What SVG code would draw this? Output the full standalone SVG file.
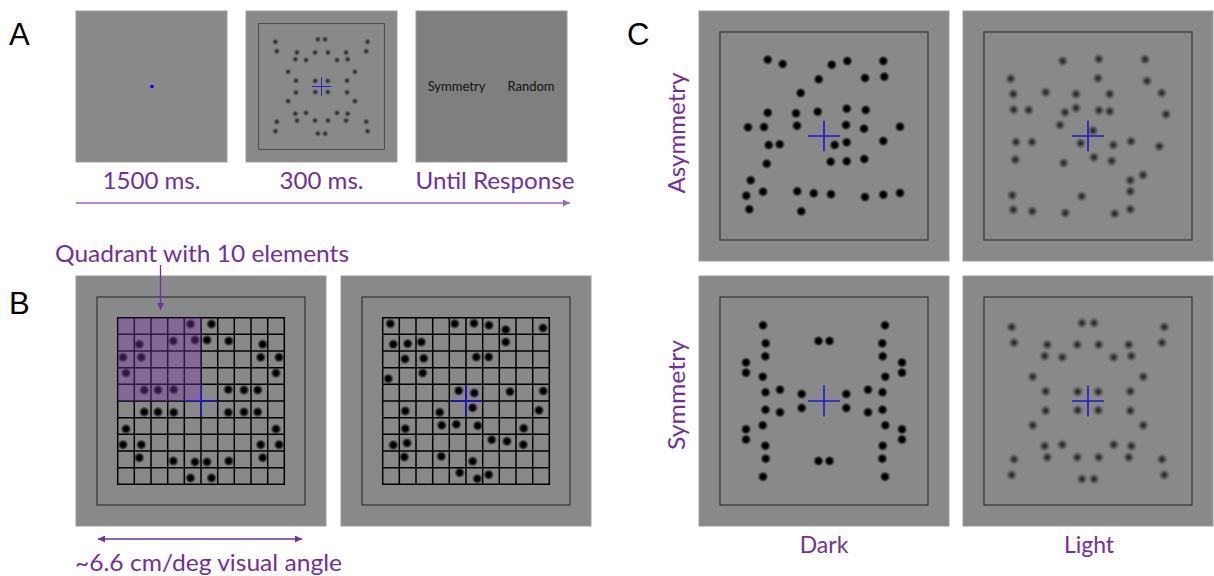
<svg xmlns="http://www.w3.org/2000/svg" xmlns:xlink="http://www.w3.org/1999/xlink" width="1214" height="576" viewBox="0 0 1214 576">
<style>
.bg{fill:#898989;stroke:#9c9c9c;stroke-width:1}
.frame{fill:none;stroke:#333;stroke-width:1.2}
.cross{stroke:#1a1ad8;stroke-width:1.6;fill:none}
.d{fill:url(#gD)}
.l{fill:url(#gL)}
.grid{fill:none;stroke:#000;stroke-width:1.5;stroke-linecap:square}
.lab{font-family:Lato,"Open Sans","Liberation Sans",sans-serif;fill:#7030a0}
.big{font-family:"Liberation Sans",Arial,sans-serif;font-size:31px;fill:#000}
.resp{font-family:Lato,"Liberation Sans",sans-serif;font-size:13px;fill:#111}
</style>
<defs>
<radialGradient id="gD"><stop offset="0" stop-color="#000"/><stop offset="0.42" stop-color="#000"/><stop offset="1" stop-color="#000" stop-opacity="0"/></radialGradient>
<radialGradient id="gL"><stop offset="0" stop-color="#262626"/><stop offset="0.3" stop-color="#303030" stop-opacity="0.9"/><stop offset="1" stop-color="#555" stop-opacity="0"/></radialGradient>
<marker id="mA" viewBox="0 0 8 8" refX="8" refY="4" markerWidth="7" markerHeight="7" markerUnits="userSpaceOnUse" orient="auto-start-reverse"><path d="M0,0L8,4L0,8z" fill="#9966cc"/></marker>
<marker id="mP" viewBox="0 0 8 8" refX="8" refY="4" markerWidth="7" markerHeight="7" markerUnits="userSpaceOnUse" orient="auto-start-reverse"><path d="M0,0L8,4L0,8z" fill="#7030a0"/></marker>
<path id="crossP" d="M-16,0H16M0,-15.5V15.5"/>
<g id="qSL">
<circle class="l" r="6" cx="-76.3" cy="-74"/><circle class="l" r="6" cx="-6" cy="-78"/><circle class="l" r="6" cx="-74" cy="-58.3"/><circle class="l" r="6" cx="-40.7" cy="-56.3"/><circle class="l" r="6" cx="-10.7" cy="-56.3"/><circle class="l" r="6" cx="-43.3" cy="-45"/><circle class="l" r="6" cx="-25.7" cy="-43.7"/><circle class="l" r="6" cx="-55.3" cy="-24.3"/><circle class="l" r="6" cx="-42.3" cy="-9.7"/><circle class="l" r="6" cx="-10.3" cy="-9.3"/>
</g>
<g id="qSD">
<circle class="d" r="5.5" cx="-61" cy="-75.7"/><circle class="d" r="5.5" cx="-5.5" cy="-60"/><circle class="d" r="5.5" cx="-58.3" cy="-57.7"/><circle class="d" r="5.5" cx="-58.7" cy="-44.7"/><circle class="d" r="5.5" cx="-78" cy="-38.5"/><circle class="d" r="5.5" cx="-78" cy="-28.3"/><circle class="d" r="5.5" cx="-61.3" cy="-24.3"/><circle class="d" r="5.5" cx="-58.5" cy="-8.7"/><circle class="d" r="5.5" cx="-44" cy="-11.3"/><circle class="d" r="5.5" cx="-22.3" cy="-7"/>
</g>
<g id="qB">
<circle class="d" r="5.5" cx="-10.5" cy="-77"/><circle class="d" r="5.5" cx="-61.7" cy="-56.7"/><circle class="d" r="5.5" cx="-27.7" cy="-60"/><circle class="d" r="5.5" cx="-6" cy="-61"/><circle class="d" r="5.5" cx="-78" cy="-43.7"/><circle class="d" r="5.5" cx="-59.7" cy="-43.7"/><circle class="d" r="5.5" cx="-75" cy="-28"/><circle class="d" r="5.5" cx="-56.7" cy="-11"/><circle class="d" r="5.5" cx="-43" cy="-11"/><circle class="d" r="5.5" cx="-27.3" cy="-11.5"/>
</g>
<g id="symLight">
<rect class="frame" x="-104" y="-104" width="208" height="208"/>
<use href="#qSL"/><use href="#qSL" transform="scale(-1,1)"/><use href="#qSL" transform="scale(1,-1)"/><use href="#qSL" transform="scale(-1,-1)"/>
<use href="#crossP" class="cross"/>
</g>
<path id="gridP" d="M-83.3,-83.3V83.3M-66.7,-83.3V83.3M-50,-83.3V83.3M-33.3,-83.3V83.3M-16.7,-83.3V83.3M0,-83.3V83.3M16.7,-83.3V83.3M33.3,-83.3V83.3M50,-83.3V83.3M66.7,-83.3V83.3M83.3,-83.3V83.3M-83.3,-83.3H83.3M-83.3,-66.7H83.3M-83.3,-50H83.3M-83.3,-33.3H83.3M-83.3,-16.7H83.3M-83.3,0H83.3M-83.3,16.7H83.3M-83.3,33.3H83.3M-83.3,50H83.3M-83.3,66.7H83.3M-83.3,83.3H83.3"/>
</defs>
<rect width="1214" height="576" fill="#fff"/>

<!-- Panel letters -->
<text class="big" x="9" y="45">A</text>
<text class="big" x="9" y="314">B</text>
<text class="big" x="627" y="45">C</text>

<!-- Panel A -->
<g id="a-fixation" transform="translate(151.5,86.5)">
<rect class="bg" x="-75.5" y="-75.5" width="151" height="151"/>
<circle r="1.8" fill="#0000ff" cx="0.5" cy="0"/>
</g>
<g id="a-stimulus" transform="translate(321.5,86.5)">
<rect class="bg" x="-75.5" y="-75.5" width="151" height="151"/>
<use href="#symLight" transform="scale(0.604)"/>
</g>
<g id="a-response" transform="translate(491.5,86.5)">
<rect class="bg" x="-75.5" y="-75.5" width="151" height="151" style="fill:#7f7f7f"/>
<text class="resp" x="-35" y="4.5" text-anchor="middle">Symmetry</text>
<text class="resp" x="39.5" y="4.5" text-anchor="middle">Random</text>
</g>
<g id="a-labels" font-size="23">
<text class="lab" x="151.5" y="189" text-anchor="middle" textLength="98" lengthAdjust="spacingAndGlyphs">1500 ms.</text>
<text class="lab" x="321.5" y="189" text-anchor="middle" textLength="84" lengthAdjust="spacingAndGlyphs">300 ms.</text>
<text class="lab" x="495" y="189" text-anchor="middle" textLength="159" lengthAdjust="spacingAndGlyphs">Until Response</text>
</g>

<!-- Panel B -->
<g id="b-grid-symmetric" transform="translate(201,401)">
<rect class="bg" x="-125" y="-125" width="250" height="250"/>
<rect class="frame" x="-104" y="-104" width="208" height="208"/>
<use href="#qB"/><use href="#qB" transform="scale(-1,1)"/><use href="#qB" transform="scale(1,-1)"/><use href="#qB" transform="scale(-1,-1)"/>
<use href="#gridP" class="grid"/>
<use href="#crossP" class="cross"/>
<rect x="-83.3" y="-83.3" width="83.3" height="83.3" fill="#7a3aaa" opacity="0.4"/>
</g>
<g id="b-grid-random" transform="translate(466,401)">
<rect class="bg" x="-125" y="-125" width="250" height="250"/>
<rect class="frame" x="-104" y="-104" width="208" height="208"/>
<g>
<circle class="d" r="5.5" cx="-75.7" cy="-77.3"/><circle class="d" r="5.5" cx="-11.3" cy="-77.3"/><circle class="d" r="5.5" cx="8" cy="-77.7"/><circle class="d" r="5.5" cx="23" cy="-75.7"/><circle class="d" r="5.5" cx="39.7" cy="-71.3"/><circle class="d" r="5.5" cx="77" cy="-73"/>
<circle class="d" r="5.5" cx="-72.7" cy="-56.7"/><circle class="d" r="5.5" cx="-58.3" cy="-57.3"/><circle class="d" r="5.5" cx="-44.7" cy="-59"/><circle class="d" r="5.5" cx="39.7" cy="-59"/>
<circle class="d" r="5.5" cx="-61" cy="-42"/><circle class="d" r="5.5" cx="-42.3" cy="-42.7"/><circle class="d" r="5.5" cx="10.3" cy="-44"/><circle class="d" r="5.5" cx="22.7" cy="-44"/>
<circle class="d" r="5.5" cx="-77.7" cy="-22.3"/><circle class="d" r="5.5" cx="-43.3" cy="-28"/>
<circle class="d" r="5.5" cx="-7.3" cy="-10.3"/><circle class="d" r="5.5" cx="8.3" cy="-8"/><circle class="d" r="5.5" cx="44" cy="-9.3"/><circle class="d" r="5.5" cx="77.3" cy="-10"/>
<circle class="d" r="5.5" cx="-60.7" cy="10"/><circle class="d" r="5.5" cx="-26.3" cy="11.3"/><circle class="d" r="5.5" cx="6.7" cy="6.7"/><circle class="d" r="5.5" cx="73" cy="9.3"/>
<circle class="d" r="5.5" cx="-60.7" cy="27.7"/><circle class="d" r="5.5" cx="-24.3" cy="24.3"/><circle class="d" r="5.5" cx="-9.7" cy="23.3"/><circle class="d" r="5.5" cx="11.7" cy="24.7"/><circle class="d" r="5.5" cx="57.7" cy="27.3"/>
<circle class="d" r="5.5" cx="-72.7" cy="44"/><circle class="d" r="5.5" cx="-59" cy="42"/><circle class="d" r="5.5" cx="25.7" cy="38.7"/><circle class="d" r="5.5" cx="41" cy="40.3"/><circle class="d" r="5.5" cx="57.3" cy="43.7"/>
<circle class="d" r="5.5" cx="-61.7" cy="56"/><circle class="d" r="5.5" cx="-24.7" cy="55.3"/><circle class="d" r="5.5" cx="6.7" cy="60.3"/>
<circle class="d" r="5.5" cx="-6.3" cy="71.7"/><circle class="d" r="5.5" cx="11.3" cy="77.7"/><circle class="d" r="5.5" cx="22.7" cy="73.7"/>
</g>
<use href="#gridP" class="grid"/>
<use href="#crossP" class="cross"/>
</g>
<g id="b-labels">
<text class="lab" x="202" y="262" font-size="24" text-anchor="middle" textLength="294" lengthAdjust="spacingAndGlyphs">Quadrant with 10 elements</text>
<text class="lab" x="208.5" y="571" font-size="24" text-anchor="middle" textLength="267" lengthAdjust="spacingAndGlyphs">~6.6 cm/deg visual angle</text>
</g>

<!-- Panel C -->
<g id="c-asym-dark" transform="translate(824,136)">
<rect class="bg" x="-125" y="-125" width="250" height="250"/>
<rect class="frame" x="-104" y="-104" width="208" height="208"/>
<g>
<circle class="d" r="5.5" cx="-56.3" cy="-76.3"/><circle class="d" r="5.5" cx="-41.3" cy="-72"/><circle class="d" r="5.5" cx="7.7" cy="-71.3"/><circle class="d" r="5.5" cx="23.3" cy="-75"/><circle class="d" r="5.5" cx="59.3" cy="-75"/>
<circle class="d" r="5.5" cx="-5.3" cy="-56.7"/><circle class="d" r="5.5" cx="41" cy="-58"/><circle class="d" r="5.5" cx="60.3" cy="-59.3"/>
<circle class="d" r="5.5" cx="-23.3" cy="-43"/>
<circle class="d" r="5.5" cx="-56.3" cy="-23.3"/><circle class="d" r="5.5" cx="-28" cy="-22.7"/><circle class="d" r="5.5" cx="-6.3" cy="-24.3"/><circle class="d" r="5.5" cx="22.7" cy="-27.3"/><circle class="d" r="5.5" cx="41.7" cy="-26"/>
<circle class="d" r="5.5" cx="-76" cy="-8.7"/><circle class="d" r="5.5" cx="-60" cy="-9"/><circle class="d" r="5.5" cx="-27" cy="-10.3"/><circle class="d" r="5.5" cx="22" cy="-11"/><circle class="d" r="5.5" cx="40" cy="-7.3"/><circle class="d" r="5.5" cx="76" cy="-9.3"/>
<circle class="d" r="5.5" cx="-55.3" cy="9"/><circle class="d" r="5.5" cx="-44.3" cy="8.3"/><circle class="d" r="5.5" cx="10.7" cy="9"/><circle class="d" r="5.5" cx="22.7" cy="6.3"/><circle class="d" r="5.5" cx="59.3" cy="5"/>
<circle class="d" r="5.5" cx="-57.3" cy="27.7"/><circle class="d" r="5.5" cx="6.7" cy="25.7"/><circle class="d" r="5.5" cx="22.7" cy="25.3"/><circle class="d" r="5.5" cx="40.3" cy="23"/>
<circle class="d" r="5.5" cx="-73.3" cy="44.3"/>
<circle class="d" r="5.5" cx="-77.7" cy="59.7"/><circle class="d" r="5.5" cx="-61" cy="55.7"/><circle class="d" r="5.5" cx="-26.7" cy="55.3"/><circle class="d" r="5.5" cx="-10.3" cy="57.3"/><circle class="d" r="5.5" cx="7" cy="58.3"/><circle class="d" r="5.5" cx="41" cy="61"/><circle class="d" r="5.5" cx="59.3" cy="58.7"/><circle class="d" r="5.5" cx="76" cy="57"/>
<circle class="d" r="5.5" cx="-74.7" cy="73.3"/><circle class="d" r="5.5" cx="-22.7" cy="75.3"/>
</g>
<use href="#crossP" class="cross"/>
</g>
<g id="c-asym-light" transform="translate(1088,136)">
<rect class="bg" x="-125" y="-125" width="250" height="250"/>
<rect class="frame" x="-104" y="-104" width="208" height="208"/>
<g>
<circle class="l" r="6" cx="-25.3" cy="-75"/><circle class="l" r="6" cx="10.7" cy="-77"/><circle class="l" r="6" cx="57" cy="-76.7"/>
<circle class="l" r="6" cx="-77.3" cy="-57.3"/><circle class="l" r="6" cx="10" cy="-57.7"/><circle class="l" r="6" cx="59" cy="-55"/>
<circle class="l" r="6" cx="-74.7" cy="-42"/><circle class="l" r="6" cx="-42.3" cy="-43.7"/><circle class="l" r="6" cx="-12" cy="-42"/><circle class="l" r="6" cx="21.7" cy="-42"/><circle class="l" r="6" cx="73.7" cy="-43"/>
<circle class="l" r="6" cx="-74.3" cy="-26.3"/><circle class="l" r="6" cx="-59.3" cy="-26"/><circle class="l" r="6" cx="-23" cy="-23.7"/><circle class="l" r="6" cx="-12" cy="-28"/><circle class="l" r="6" cx="11" cy="-25.7"/><circle class="l" r="6" cx="21.7" cy="-24.7"/><circle class="l" r="6" cx="78" cy="-21.7"/>
<circle class="l" r="6" cx="-28" cy="-11"/><circle class="l" r="6" cx="5" cy="-5.3"/>
<circle class="l" r="6" cx="-72" cy="6"/><circle class="l" r="6" cx="-56" cy="6"/><circle class="l" r="6" cx="-7.3" cy="7.3"/><circle class="l" r="6" cx="25.3" cy="9"/><circle class="l" r="6" cx="43" cy="5.3"/><circle class="l" r="6" cx="71.3" cy="10.3"/>
<circle class="l" r="6" cx="-72.7" cy="23.7"/><circle class="l" r="6" cx="-24.3" cy="27"/><circle class="l" r="6" cx="6" cy="21.3"/><circle class="l" r="6" cx="23.7" cy="25"/>
<circle class="l" r="6" cx="55" cy="39"/><circle class="l" r="6" cx="42.3" cy="44.3"/><circle class="l" r="6" cx="42.3" cy="55.3"/>
<circle class="l" r="6" cx="-75.7" cy="59.3"/><circle class="l" r="6" cx="-6.3" cy="60.3"/>
<circle class="l" r="6" cx="-74.7" cy="73.7"/><circle class="l" r="6" cx="-55.7" cy="75.3"/><circle class="l" r="6" cx="-22.7" cy="77"/><circle class="l" r="6" cx="26.7" cy="77.7"/><circle class="l" r="6" cx="42.3" cy="73.3"/>
</g>
<use href="#crossP" class="cross"/>
</g>
<g id="c-sym-dark" transform="translate(824,401)">
<rect class="bg" x="-125" y="-125" width="250" height="250"/>
<rect class="frame" x="-104" y="-104" width="208" height="208"/>
<use href="#qSD"/><use href="#qSD" transform="scale(-1,1)"/><use href="#qSD" transform="scale(1,-1)"/><use href="#qSD" transform="scale(-1,-1)"/>
<use href="#crossP" class="cross"/>
</g>
<g id="c-sym-light" transform="translate(1088,401)">
<rect class="bg" x="-125" y="-125" width="250" height="250"/>
<use href="#symLight"/>
</g>
<g id="c-labels" font-size="23">
<text class="lab" transform="translate(685,133) rotate(-90)" text-anchor="middle" textLength="121" lengthAdjust="spacingAndGlyphs">Asymmetry</text>
<text class="lab" transform="translate(685,395) rotate(-90)" text-anchor="middle" textLength="110" lengthAdjust="spacingAndGlyphs">Symmetry</text>
<text class="lab" x="824" y="553" text-anchor="middle">Dark</text>
<text class="lab" x="1089" y="553" text-anchor="middle">Light</text>
</g>

<!-- Connectors -->
<g id="connectors" fill="none">
<line x1="76" y1="203" x2="570" y2="203" stroke="#9966cc" stroke-width="1.3" marker-end="url(#mA)"/>
<line x1="160.5" y1="265" x2="160.5" y2="310" stroke="#7030a0" stroke-width="1.3" marker-end="url(#mP)"/>
<line x1="98" y1="539" x2="302" y2="539" stroke="#7030a0" stroke-width="1.3" marker-start="url(#mP)" marker-end="url(#mP)"/>
</g>
</svg>
